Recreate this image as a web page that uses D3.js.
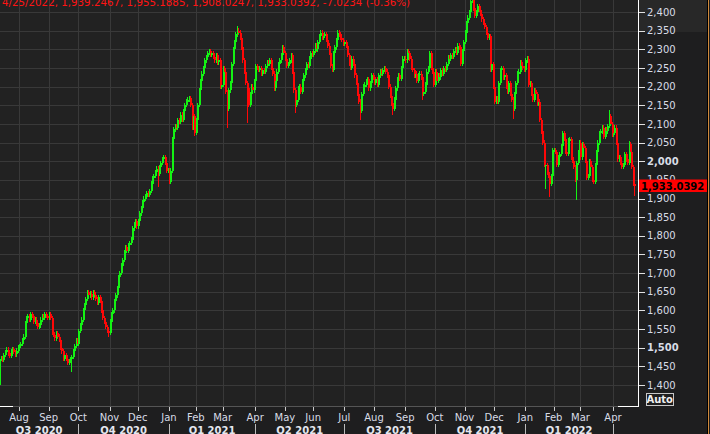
<!DOCTYPE html>
<html><head><meta charset="utf-8">
<script src="https://cdn.jsdelivr.net/npm/d3@7"></script>
<style>html,body{margin:0;padding:0;background:#1e1e1f;overflow:hidden}</style>
</head><body><svg id="c" width="710" height="434"></svg>
<script>
// ---------- DATA ----------
const startDate = "2020-07-14";
const endDate = "2022-04-25";
const holidays = ["2020-09-07","2020-11-26","2020-12-25","2021-01-01","2021-01-18","2021-02-15","2021-04-02","2021-05-31","2021-07-05","2021-09-06","2021-11-25","2021-12-24","2022-01-17","2022-02-21","2022-04-15"];
const firstOpen = 1400;
const closesJul2020 = [1470,1472,1468,1480,1488,1495,1485,1478,1490,1497,1488,1482,1492,1500];
const closesAug2020 = [1505,1510,1520,1530,1565,1580,1585,1575,1590,1585,1570,1575,1565,1555,1560,1575,1585,1580,1590,1585,1580];
const closesSep2020 = [1590,1580,1540,1535,1525,1540,1530,1520,1500,1490,1470,1480,1470,1460,1465,1470,1475,1490,1505,1520,1510];
const closesOct2020 = [1545,1560,1575,1600,1615,1630,1650,1640,1645,1635,1650,1640,1630,1620,1635,1625,1600,1580,1570,1555,1545,1540];
const closesNov2020 = [1570,1590,1600,1625,1640,1660,1690,1700,1720,1735,1755,1770,1760,1775,1780,1790,1820,1830,1840,1825];
const closesDec2020 = [1840,1860,1875,1890,1900,1905,1915,1910,1920,1940,1955,1960,1970,1980,1965,1985,1995,2005,2010,1995,1975,1975];
const closesJan2021 = [1945,1975,2060,2085,2095,2090,2110,2105,2125,2110,2135,2150,2160,2165,2170,2150,2090,2120,2075];
const closesFeb2021 = [2110,2150,2190,2215,2235,2250,2270,2280,2290,2295,2285,2290,2280,2270,2285,2265,2270,2200,2205];
const closesMar2021 = [2250,2240,2185,2140,2190,2210,2260,2300,2320,2340,2350,2345,2330,2305,2270,2240,2210,2195,2150,2180,2200,2190,2215];
const closesApr2021 = [2255,2250,2245,2250,2235,2245,2240,2255,2265,2260,2270,2250,2235,2195,2215,2240,2260,2270,2285,2305,2290];
const closesMay2021 = [2275,2255,2260,2270,2285,2240,2190,2150,2165,2195,2200,2185,2215,2230,2245,2260,2255,2275,2290,2285];
const closesJun2021 = [2295,2310,2300,2320,2335,2345,2330,2335,2340,2325,2310,2290,2255,2245,2290,2305,2325,2345,2340,2330,2325,2315];
const closesJul2021 = [2320,2310,2285,2260,2250,2275,2260,2230,2210,2180,2160,2135,2180,2200,2205,2215,2220,2195,2210,2230,2225];
const closesAug2021 = [2210,2220,2205,2230,2240,2235,2245,2250,2240,2230,2200,2175,2155,2140,2165,2195,2220,2230,2220,2250,2275,2275];
const closesSep2021 = [2270,2295,2290,2275,2250,2245,2230,2235,2215,2230,2235,2225,2180,2185,2205,2240,2250,2290,2250,2240,2205];
const closesOct2021 = [2240,2215,2230,2225,2245,2235,2250,2245,2260,2280,2275,2285,2280,2295,2300,2290,2310,2305,2260,2295,2320];
const closesNov2021 = [2345,2370,2385,2400,2430,2440,2410,2390,2400,2415,2405,2395,2380,2370,2360,2345,2330,2335,2245,2260,2200];
const closesDec2021 = [2160,2170,2160,2210,2245,2250,2225,2230,2200,2185,2210,2180,2165,2140,2180,2210,2235,2240,2265,2255,2250,2245];
const closesJan2022 = [2270,2275,2205,2210,2180,2165,2190,2180,2155,2160,2110,2080,2050,1990,1990,1970,1960,1940,1960,2030];
const closesFeb2022 = [2030,2025,1990,2010,2020,2040,2075,2060,2025,2020,2055,2060,2010,2000,1985,1950,1995,2025,2050];
const closesMar2022 = [2010,2045,2035,2000,1955,1960,2000,1985,1950,1945,1990,2025,2050,2075,2080,2090,2065,2085,2080,2095,2120,2100,2070];
const closesApr2022 = [2075,2090,2050,2005,2010,1995,1985,1990,2020,2005,1995,2045,2025,1985,1940.06,1933.0392];
// long wicks: [date, high, low]
const wickOverrides = [
  ["2020-07-14",null,1395],["2020-09-24",null,1435],["2020-10-30",null,1528],["2020-12-21",null,1930],
  ["2021-01-29",null,2068],["2021-03-04",null,2090],["2021-03-15",2362,null],["2021-03-24",null,2102],
  ["2021-05-12",null,2130],["2021-07-19",null,2110],["2021-08-19",null,2125],["2021-09-20",null,2164],
  ["2021-11-08",2442,null],["2021-12-20",null,2112],["2022-01-24",null,1925],["2022-01-27",null,1904],
  ["2022-02-24",null,1896],["2022-03-14",null,1938],["2022-03-29",2137,null],["2022-04-19",2055,null]
];
const lastBar = {open:1939.2467, high:1955.1885, low:1908.0247, close:1933.0392};
const wickPad = 6;
const yTicks = [1400,1450,1500,1550,1600,1650,1700,1750,1800,1850,1900,1950,2000,2050,2100,2150,2200,2250,2300,2350,2400];
const boldTicks = [1500,2000];
const monthNames = ["Jan","Feb","Mar","Apr","May","Jun","Jul","Aug","Sep","Oct","Nov","Dec"];
const headerText = "4/25/2022, 1,939.2467, 1,955.1885, 1,908.0247, 1,933.0392, -7.0234 (-0.36%)";
const lastLabel = "1,933.0392";

// ---------- BUILD ----------
const closes = [].concat(closesJul2020,closesAug2020,closesSep2020,closesOct2020,closesNov2020,closesDec2020,
  closesJan2021,closesFeb2021,closesMar2021,closesApr2021,closesMay2021,closesJun2021,closesJul2021,closesAug2021,
  closesSep2021,closesOct2021,closesNov2021,closesDec2021,closesJan2022,closesFeb2022,closesMar2022,closesApr2022);
const fmtD = d3.utcFormat("%Y-%m-%d");
const hol = new Set(holidays);
const dates = [];
for (let d = new Date(startDate+"T00:00:00Z"); d <= new Date(endDate+"T00:00:00Z"); d = new Date(d.getTime()+864e5)) {
  const wd = d.getUTCDay();
  if (wd===0||wd===6||hol.has(fmtD(d))) continue;
  dates.push(new Date(d));
}
const ov = new Map(wickOverrides.map(o=>[o[0],o]));
const bars = dates.map((d,i)=>{
  const c = closes[i];
  const o = i===0 ? firstOpen : closes[i-1];
  let h = Math.max(o,c)+wickPad, l = Math.min(o,c)-wickPad;
  const k = ov.get(fmtD(d));
  if (k){ if(k[1]!=null) h=k[1]; if(k[2]!=null) l=k[2]; }
  return {i, date:d, open:o, high:h, low:l, close:c};
});
Object.assign(bars[bars.length-1], lastBar);

// ---------- DRAW ----------
const W=710,H=434, plotR=638, plotB=406;
const svg = d3.select("#c");
const x = d3.scaleLinear().domain([14,434]).range([19,613]);
const y = d3.scaleLinear().domain([1400,2400]).range([385,12]);

svg.append("rect").attr("width",W).attr("height",H).attr("fill","#1e1e1f");
svg.append("rect").attr("width",plotR).attr("height",plotB).attr("fill","#222222");
svg.append("rect").attr("x",639).attr("y",0).attr("width",68).attr("height",32).attr("fill","#282828");

const monthStarts = [];
bars.forEach((b,i)=>{ if(i>0 && b.date.getUTCMonth()!==bars[i-1].date.getUTCMonth()) monthStarts.push(b); });

const grid = svg.append("g").attr("shape-rendering","crispEdges");
grid.selectAll("line.h").data(yTicks).join("line")
  .attr("x1",0).attr("x2",plotR).attr("y1",d=>Math.round(y(d))+0.5).attr("y2",d=>Math.round(y(d))+0.5)
  .attr("stroke","#393939");
grid.selectAll("line.v").data(monthStarts).join("line")
  .attr("x1",d=>Math.round(x(d.i))+0.5).attr("x2",d=>Math.round(x(d.i))+0.5).attr("y1",0).attr("y2",plotB)
  .attr("stroke","#393939");

svg.append("clipPath").attr("id","pc").append("rect").attr("width",plotR).attr("height",plotB);
const cg = svg.append("g").attr("clip-path","url(#pc)").attr("shape-rendering","crispEdges");
const green="#14f214", red="#ff0808";
cg.selectAll("line.w").data(bars).join("line")
  .attr("x1",d=>Math.round(x(d.i))+0.5).attr("x2",d=>Math.round(x(d.i))+0.5)
  .attr("y1",d=>y(d.high)).attr("y2",d=>y(d.low))
  .attr("stroke",d=>d.close>=d.open?green:red).attr("stroke-width",1);
cg.selectAll("rect.b").data(bars).join("rect")
  .attr("x",d=>Math.round(x(d.i))-0.5).attr("width",2)
  .attr("y",d=>y(Math.max(d.open,d.close)))
  .attr("height",d=>Math.max(1.5,Math.abs(y(d.open)-y(d.close))))
  .attr("fill",d=>d.close>=d.open?green:red);

// header (cut at the top edge as in the reference)
svg.append("text").attr("x",2).attr("y",5.5).attr("fill","#ff1414")
  .attr("font-family","DejaVu Sans").attr("font-size",11)
  .attr("textLength",408).attr("lengthAdjust","spacingAndGlyphs").text(headerText);

// right axis
const ax = svg.append("g").attr("shape-rendering","crispEdges");
ax.append("line").attr("x1",638.5).attr("x2",638.5).attr("y1",0).attr("y2",406.5).attr("stroke","#ffffff");
ax.selectAll("line.t").data(yTicks).join("line")
  .attr("x1",639).attr("x2",645).attr("y1",d=>Math.round(y(d))+0.5).attr("y2",d=>Math.round(y(d))+0.5)
  .attr("stroke","#e0e0e0");
svg.selectAll("text.yl").data(yTicks).join("text")
  .attr("x",647).attr("y",d=>y(d)).attr("dy","0.36em")
  .attr("fill","#d8dce6").attr("font-family","DejaVu Sans").attr("font-size",10)
  .attr("font-weight",d=>boldTicks.includes(d)?"bold":"normal")
  .text(d=>d3.format(",")(d));

// last price label
const ly = y(lastBar.close);
svg.append("rect").attr("x",639).attr("y",Math.round(ly)-6.5).attr("width",68).attr("height",12.5).attr("fill","#ff0000");
svg.append("text").attr("x",641).attr("y",ly).attr("dy","0.36em").attr("fill","#000")
  .attr("font-family","DejaVu Sans").attr("font-weight","bold").attr("font-size",10).text(lastLabel);

// bottom axis
ax.append("line").attr("x1",0).attr("x2",638).attr("y1",406.5).attr("y2",406.5).attr("stroke","#555");
ax.append("line").attr("x1",0).attr("x2",13).attr("y1",406.5).attr("y2",406.5).attr("stroke","#fff");
ax.append("line").attr("x1",618).attr("x2",639).attr("y1",406.5).attr("y2",406.5).attr("stroke","#fff");
ax.selectAll("line.mt").data(monthStarts).join("line")
  .attr("x1",d=>Math.round(x(d.i))+0.5).attr("x2",d=>Math.round(x(d.i))+0.5).attr("y1",407).attr("y2",411)
  .attr("stroke","#cccccc");
svg.selectAll("text.ml").data(monthStarts).join("text")
  .attr("x",d=>x(d.i)).attr("y",421).attr("text-anchor","middle")
  .attr("fill","#d8dce6").attr("font-family","DejaVu Sans").attr("font-size",10)
  .text(d=>monthNames[d.date.getUTCMonth()]);

// quarters
const qStarts = monthStarts.filter(b=>b.date.getUTCMonth()%3===0);
ax.selectAll("line.q").data(qStarts).join("line")
  .attr("x1",d=>Math.round(x(d.i))+0.5).attr("x2",d=>Math.round(x(d.i))+0.5).attr("y1",424).attr("y2",434)
  .attr("stroke","#bbbbbb");
const qBounds = [{i:0,date:bars[0].date}].concat(qStarts);
const quarters = [];
for (let k=0;k<qBounds.length;k++){
  const a = Math.max(0,x(qBounds[k].i));
  const b = k+1<qBounds.length ? x(qBounds[k+1].i) : x(bars.length-1);
  if (b-a<50) continue;
  const dt = qBounds[k].date;
  quarters.push({mid:(a+b)/2, label:"Q"+(Math.floor(dt.getUTCMonth()/3)+1)+" "+dt.getUTCFullYear()});
}
svg.selectAll("text.ql").data(quarters).join("text")
  .attr("x",d=>d.mid).attr("y",433.5).attr("text-anchor","middle")
  .attr("fill","#e4e6ee").attr("font-family","DejaVu Sans").attr("font-weight","bold").attr("font-size",10)
  .text(d=>d.label);

// Auto button
svg.append("rect").attr("x",646.5).attr("y",393.5).attr("width",26.5).attr("height",12)
  .attr("fill","none").attr("stroke","#c8c8c8").attr("shape-rendering","crispEdges");
svg.append("text").attr("x",659.7).attr("y",403.3).attr("text-anchor","middle").attr("fill","#f0f0f0")
  .attr("font-family","DejaVu Sans").attr("font-weight","bold").attr("font-size",10).text("Auto");

// right frame
svg.append("rect").attr("x",707).attr("y",0).attr("width",1).attr("height",H).attr("fill","#000");
svg.append("rect").attr("x",708).attr("y",0).attr("width",1).attr("height",H).attr("fill","#d08a3c");
</script></body></html>
